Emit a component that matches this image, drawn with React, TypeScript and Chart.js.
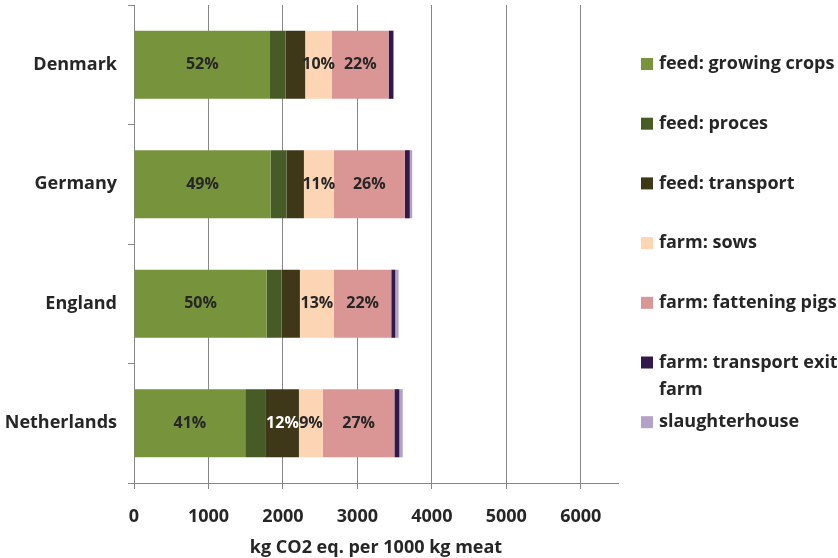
import { useEffect, useRef } from 'react';
import { Chart, registerables } from 'chart.js';

Chart.register(...registerables);

const FONT = '"Open Sans", "DejaVu Sans", sans-serif';
const TEXT = '#262626';
const GRID = '#878787';

// Countries, top to bottom
const categories = ['Denmark', 'Germany', 'England', 'Netherlands'];

// kg CO2 eq. per 1000 kg meat, by stage
const growingCrops = [1826, 1835, 1781, 1494];
const feedProces = [210, 214, 201, 278];
const feedTransport = [263, 233, 246, 443];
const farmSows = [360, 400, 457, 322];
const fatteningPigs = [760, 955, 770, 960];
const transportExit = [63, 67, 54, 67];
const slaughterhouse = [10, 32, 44, 45];

const seriesNames = [
  'feed: growing crops',
  'feed: proces',
  'feed: transport',
  'farm: sows',
  'farm: fattening pigs',
  'farm: transport exit farm',
  'slaughterhouse',
];
const seriesValues = [
  growingCrops,
  feedProces,
  feedTransport,
  farmSows,
  fatteningPigs,
  transportExit,
  slaughterhouse,
];
const seriesColors = ['#77933C', '#475B27', '#3E3718', '#FCD5B5', '#D99694', '#311A4B', '#B3A2C7'];
const labelColors = [TEXT, TEXT, '#FFFFFF', TEXT, TEXT, '#FFFFFF', TEXT];

const xTickValues = [0, 1000, 2000, 3000, 4000, 5000, 6000];
const xMax = 6500;
const xTitle = 'kg CO2 eq. per 1000 kg meat';

// share of the country total printed inside the larger segments
const segmentLabels = {
  id: 'segmentLabels',
  afterDatasetsDraw(chart: any) {
    const ctx = chart.ctx as CanvasRenderingContext2D;
    const totals = categories.map((_, j) => seriesValues.reduce((s, arr) => s + arr[j], 0));
    ctx.save();
    ctx.font = `bold 16px ${FONT}`;
    ctx.textAlign = 'center';
    ctx.textBaseline = 'middle';
    chart.data.datasets.forEach((ds: any, i: number) => {
      const meta = chart.getDatasetMeta(i);
      meta.data.forEach((bar: any, j: number) => {
        const pct = (ds.data[j] / totals[j]) * 100;
        if (pct < 8.5) return;
        ctx.fillStyle = labelColors[i];
        ctx.fillText(`${Math.round(pct)}%`, (bar.x + bar.base) / 2, bar.y);
      });
    });
    ctx.restore();
  },
};

// legend column on the right, with word wrapping
const sideLegend = {
  id: 'sideLegend',
  afterDraw(chart: any) {
    const ctx = chart.ctx as CanvasRenderingContext2D;
    const x0 = chart.chartArea.right + 23;
    const top = 64;
    const step = 59.7;
    const lineH = 27;
    const maxW = 205;
    ctx.save();
    ctx.font = `bold 18px ${FONT}`;
    ctx.textAlign = 'left';
    ctx.textBaseline = 'middle';
    seriesNames.forEach((name, i) => {
      const y = top + i * step;
      ctx.fillStyle = seriesColors[i];
      ctx.fillRect(x0, y - 6, 12, 12);
      const lines: string[] = [];
      let line = '';
      for (const w of name.split(' ')) {
        const t = line ? `${line} ${w}` : w;
        if (line && ctx.measureText(t).width > maxW) {
          lines.push(line);
          line = w;
        } else {
          line = t;
        }
      }
      lines.push(line);
      ctx.fillStyle = TEXT;
      lines.forEach((l, k) => ctx.fillText(l, x0 + 18, y + k * lineH));
    });
    ctx.restore();
  },
};

export default function App() {
  const canvasRef = useRef<HTMLCanvasElement | null>(null);

  useEffect(() => {
    document.body.style.margin = '0';
    const canvas = canvasRef.current;
    if (!canvas) return;
    const chart = new Chart(canvas, {
      type: 'bar',
      data: {
        labels: categories,
        datasets: seriesNames.map((name, i) => ({
          label: name,
          data: seriesValues[i],
          backgroundColor: seriesColors[i],
          borderWidth: 0,
          categoryPercentage: 1,
          barPercentage: 0.57,
        })),
      },
      options: {
        indexAxis: 'y',
        responsive: false,
        devicePixelRatio: 1,
        animation: false,
        layout: { padding: { top: 5, right: 220, left: 0, bottom: 0 } },
        plugins: {
          legend: { display: false },
          tooltip: { enabled: false },
        },
        scales: {
          x: {
            stacked: true,
            min: 0,
            max: xMax,
            afterBuildTicks: (scale: any) => {
              scale.ticks = xTickValues.map((v) => ({ value: v }));
            },
            afterFit: (scale: any) => {
              scale.height = 75;
              scale.paddingLeft = 0;
              scale.paddingRight = 0;
            },
            grid: {
              color: GRID,
              lineWidth: 1,
              drawTicks: true,
              tickLength: 6,
            },
            border: { display: true, color: GRID, width: 1 },
            ticks: {
              color: TEXT,
              font: { family: FONT, size: 18, weight: 'bold' },
              padding: 17,
              maxRotation: 0,
              callback: (v: any) => String(v),
            },
            title: {
              display: true,
              text: xTitle,
              color: TEXT,
              font: { family: FONT, size: 18, weight: 'bold' },
              padding: { top: 0, bottom: -1 },
            },
          },
          y: {
            stacked: true,
            afterFit: (scale: any) => {
              scale.width = 134;
              scale.paddingTop = 0;
              scale.paddingBottom = 0;
            },
            grid: {
              drawOnChartArea: false,
              drawTicks: true,
              tickLength: 6,
              color: GRID,
              offset: true,
            },
            border: { display: true, color: GRID, width: 1 },
            ticks: {
              color: TEXT,
              font: { family: FONT, size: 18, weight: 'bold' },
              padding: 11,
            },
          },
        },
      },
      plugins: [segmentLabels, sideLegend],
    } as any);
    return () => chart.destroy();
  }, []);

  return (
    <div style={{ position: 'absolute', left: 0, top: 0, width: 838, height: 558 }}>
      <canvas ref={canvasRef} width={838} height={558} />
    </div>
  );
}
